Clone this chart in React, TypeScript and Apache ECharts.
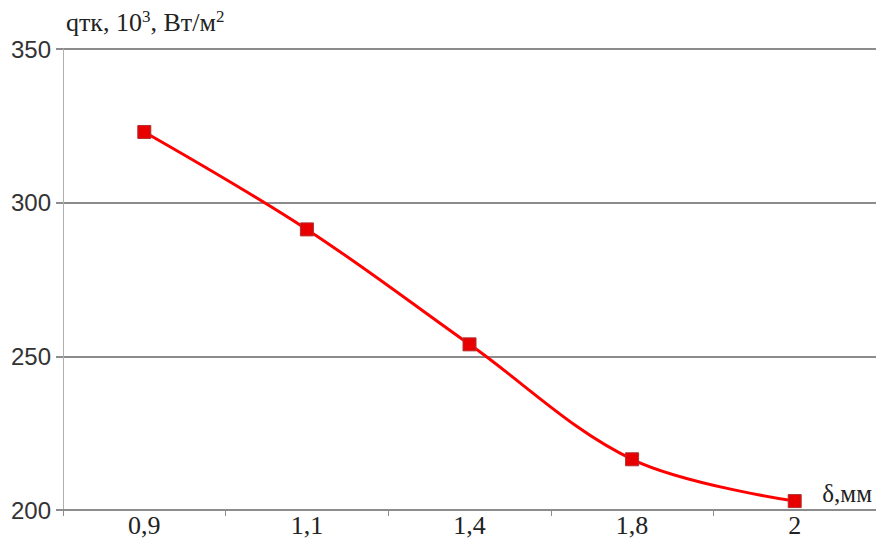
import React, { useEffect, useRef } from "react";
import * as echarts from "echarts";

const categories = ["0,9", "1,1", "1,4", "1,8", "2"];
const qValues = [323, 291.3, 253.9, 216.5, 202.9];
const yMin = 200;
const yMax = 350;
const yInterval = 50;

export default function App() {
  const ref = useRef<HTMLDivElement>(null);
  useEffect(() => {
    if (!ref.current) return;
    const chart = echarts.init(ref.current, null, { renderer: "svg" });
    const serif = "Liberation Serif";
    const sans = "Liberation Sans";
    chart.setOption({
      animation: false,
      backgroundColor: "#fff",
      grid: { left: 63, right: 0, top: 49, bottom: 23, containLabel: false },
      xAxis: {
        type: "category",
        data: categories,
        boundaryGap: true,
        name: "δ,мм",
        nameLocation: "end",
        nameGap: 0,
        nameTextStyle: {
          fontFamily: serif,
          fontSize: 25,
          color: "#222",
          align: "right",
          verticalAlign: "bottom",
          padding: [0, 4, 4, 0],
        },
        axisLine: { show: true, lineStyle: { color: "#8c8c8c", width: 2 } },
        axisTick: { show: true, alignWithLabel: false, length: 6, lineStyle: { color: "#8c8c8c", width: 1 } },
        axisLabel: { fontFamily: serif, fontSize: 26, color: "#222", margin: 2 },
        splitLine: { show: false },
      },
      yAxis: {
        type: "value",
        min: yMin,
        max: yMax,
        interval: yInterval,
        name: "qтк, 10{sup|3}, Вт/м{sup|2}",
        nameLocation: "end",
        nameGap: 12,
        nameTextStyle: {
          fontFamily: serif,
          fontSize: 26,
          color: "#222",
          align: "left",
          padding: [0, 0, 0, 3],
          rich: {
            sup: { fontFamily: serif, fontSize: 17, color: "#222", verticalAlign: "top", padding: [0, 0, 12, 0] },
          },
        },
        axisLine: { show: true, lineStyle: { color: "#b0b0b0", width: 1 } },
        axisTick: { show: true, length: 7, lineStyle: { color: "#8c8c8c", width: 2 } },
        axisLabel: { fontFamily: sans, fontSize: 24, color: "#333", margin: 12 },
        splitLine: { show: true, lineStyle: { color: "#8c8c8c", width: 2 } },
      },
      series: [
        {
          type: "line",
          data: qValues,
          smooth: 0.35,
          symbol: "rect",
          symbolSize: 13,
          lineStyle: { color: "#ff0000", width: 3 },
          itemStyle: { color: "#e80000", borderColor: "#b03030", borderWidth: 1 },
        },
      ],
    });
    return () => chart.dispose();
  }, []);
  return (
    <div
      ref={ref}
      style={{ position: "fixed", left: 0, top: 0, width: 876, height: 538 }}
    />
  );
}
